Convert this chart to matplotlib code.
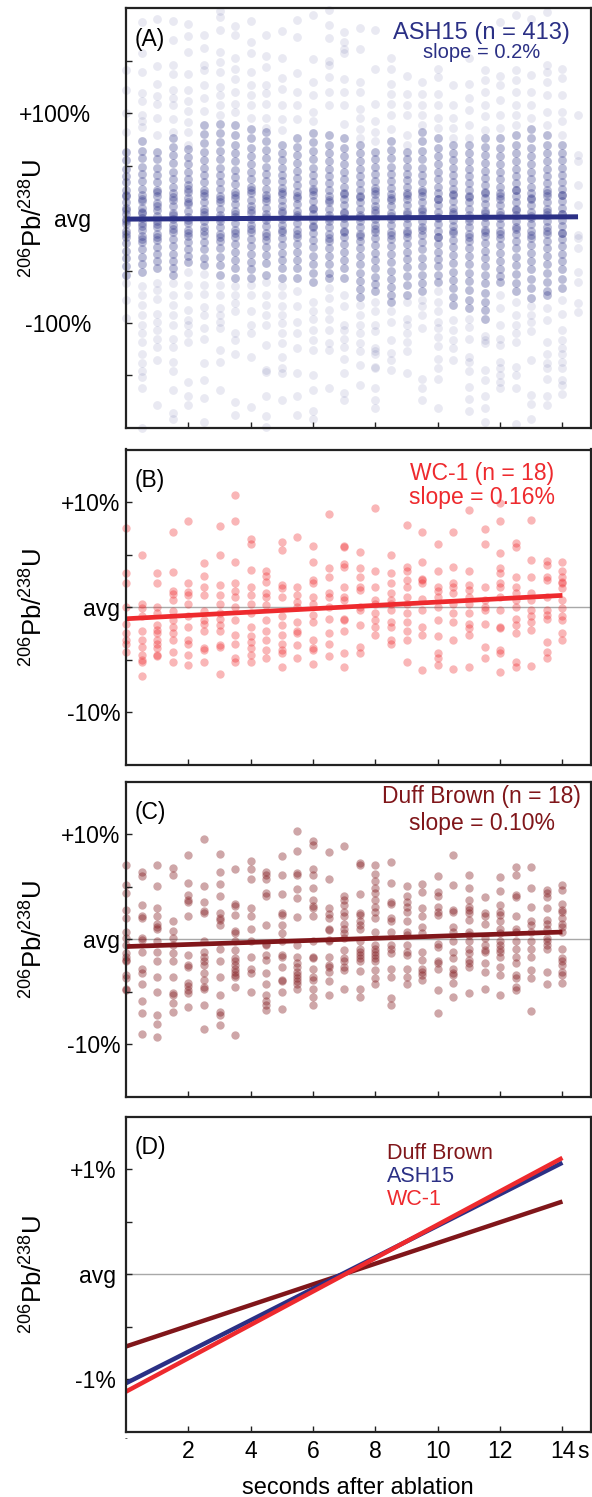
import matplotlib.pyplot as plt
import numpy as np

plt.rcParams['font.family'] = ['Liberation Sans', 'DejaVu Sans']
plt.rcParams['mathtext.fontset'] = 'custom'
plt.rcParams['mathtext.rm'] = 'Liberation Sans'
plt.rcParams['mathtext.it'] = 'Liberation Sans:italic'

# colours of the three reference materials
ASH = '#2b3085'
WC1 = '#ee2a2e'
DUFF = '#80161a'

# seconds after ablation for each measurement column
t_cols = [0, 0.5, 1, 1.5, 2, 2.5, 3, 3.5, 4, 4.5, 5, 5.5, 6, 6.5, 7,
          7.5, 8, 8.5, 9, 9.5, 10, 10.5, 11, 11.5, 12, 12.5, 13, 13.5, 14]
t_extra = 14.5  # last, sparse ASH15 column

# (A) ASH15, deviation from average in % -- dense band of each column
ash_dense = [
    [63, 55, 47, 40, 34, 27, 21, 15, 10, 4, -1, -6, -12, -18, -24, -31, -38, -46, -54, 22, 8, -3, -15],
    [73, 64, 57, 49, 42, 35, 28, 22, 16, 10, 5, 0, -5, -11, -17, -23, -30, -37, -44, -51, 18, 6, -8, -20],
    [63, 56, 48, 41, 34, 27, 21, 14, 8, 2, -3, -9, -15, -21, -28, -34, -41, -48, 25, 11, -6, -18],
    [76, 68, 60, 52, 44, 37, 30, 24, 17, 11, 5, -1, -7, -13, -20, -27, -34, -41, -48, -54, 20, 3, -10],
    [66, 58, 51, 44, 37, 31, 25, 19, 13, 7, 1, -5, -11, -17, -23, -30, -36, -42, 28, 15, -2, -14],
    [89, 80, 71, 63, 55, 48, 41, 34, 27, 21, 15, 9, 3, -3, -9, -16, -23, -30, -38, -45, 24, 6, -12],
    [90, 81, 72, 64, 56, 48, 41, 34, 28, 21, 15, 9, 3, -3, -9, -15, -22, -29, -37, -45, -54, 18, 0, -18],
    [89, 79, 70, 62, 54, 46, 39, 32, 25, 19, 13, 7, 1, -5, -11, -18, -25, -32, -40, -48, -57, 22, 4, -14],
    [85, 76, 67, 59, 51, 44, 37, 30, 24, 17, 11, 5, -1, -7, -13, -20, -27, -34, -42, -49, -57, 27, 8, -10],
    [82, 73, 65, 57, 49, 42, 35, 28, 22, 16, 10, 4, -2, -8, -14, -21, -28, -35, -43, -54, 19, 1, -17],
    [70, 62, 55, 48, 41, 35, 29, 23, 17, 11, 5, -1, -7, -13, -19, -26, -33, -40, -48, -57, 25, 7, -11],
    [76, 68, 60, 52, 45, 38, 31, 25, 19, 13, 7, 1, -5, -11, -18, -25, -32, -40, -48, -57, 21, 3, -15],
    [81, 72, 64, 56, 48, 41, 34, 28, 22, 16, 10, 4, -2, -8, -14, -21, -28, -36, -44, -52, -61, 26, 9, -9],
    [79, 70, 62, 54, 47, 40, 33, 27, 21, 15, 9, 3, -3, -9, -15, -22, -29, -36, -44, -52, -57, 17, 0, -19],
    [76, 67, 59, 51, 44, 37, 30, 24, 18, 12, 6, 0, -6, -12, -18, -25, -32, -40, -48, -57, 23, 5, -13],
    [70, 62, 54, 47, 40, 33, 27, 21, 15, 9, 3, -3, -9, -15, -22, -29, -36, -44, -52, -60, -68, -75, 20, 1, -17],
    [63, 56, 49, 42, 35, 29, 23, 17, 11, 5, -1, -7, -13, -19, -26, -33, -40, -48, -56, -63, -70, 26, 8, -10],
    [73, 65, 57, 49, 42, 35, 29, 23, 17, 11, 5, -1, -7, -13, -20, -27, -34, -42, -50, -58, -66, -73, -80, 19, 2, -16],
    [63, 56, 49, 42, 36, 30, 24, 18, 12, 6, 0, -6, -12, -18, -25, -32, -39, -47, -55, -64, -73, 22, 4, -14],
    [82, 73, 64, 56, 48, 41, 34, 27, 21, 15, 9, 3, -3, -9, -16, -23, -30, -38, -46, -54, -62, -70, 25, 7, -11],
    [76, 67, 59, 51, 44, 37, 30, 24, 18, 12, 6, 0, -6, -12, -18, -25, -32, -39, -46, -54, -61, 18, 1, -18],
    [70, 62, 55, 48, 41, 34, 28, 22, 16, 10, 4, -2, -8, -14, -21, -28, -35, -43, -51, -59, -67, -75, -83, 23, 6, -12],
    [70, 62, 54, 47, 40, 33, 27, 21, 15, 9, 3, -3, -9, -15, -22, -29, -36, -44, -52, -60, -69, -78, -86, 20, 0, -18],
    [76, 68, 60, 52, 45, 38, 31, 25, 19, 13, 7, 1, -5, -11, -17, -24, -31, -38, -46, -54, -62, -71, -80, -88, -96, 24, 5, -13],
    [76, 67, 59, 51, 44, 37, 30, 24, 18, 12, 6, 0, -6, -12, -19, -26, -33, -41, -49, -55, -61, 21, 3, -15],
    [79, 70, 62, 54, 47, 40, 33, 27, 21, 15, 9, 3, -3, -9, -15, -22, -29, -37, -45, -53, -62, -70, 27, 8, -10],
    [85, 76, 67, 59, 51, 44, 37, 30, 24, 18, 12, 6, 0, -6, -12, -19, -26, -33, -41, -49, -58, -67, -76, 19, 2, -16],
    [79, 70, 62, 54, 47, 40, 33, 27, 21, 15, 9, 3, -3, -9, -15, -22, -29, -36, -44, -52, -61, -70, -73, 24, 6, -12],
    [70, 62, 55, 48, 41, 34, 28, 22, 16, 10, 4, -2, -8, -14, -20, -27, -34, -41, -49, -58, -67, 22, 4, -14],
]

# (A) ASH15 -- scattered outliers of each column
ash_sparse = [
    [141, 122, 100, 82, -62, -78, -95],
    [187, 157, 139, 119, 111, 98, 92, 87, -65, -73, -83, -92, -102, -110, -118, -130, -138, -146, -151, -162, -200],
    [190, 145, 128, 116, 109, 95, 79, -62, -69, -77, -91, -99, -107, -115, -123, -135, -178],
    [188, 170, 146, 137, 122, 114, 108, 94, 82, -62, -73, -83, -92, -102, -115, -123, -137, -146, -164, -186, -191],
    [185, 173, 158, 137, 122, 111, 102, 91, 82, 70, -51, -64, -73, -88, -97, -102, -110, -118, -156, -170, -178],
    [174, 162, 146, 141, 127, 114, 102, -53, -64, -72, -85, -92, -105, -115, -138, -154, -171, -194],
    [197, 191, 179, 158, 149, 139, 125, 117, 108, 98, -64, -73, -86, -92, -99, -105, -126, -137, -164],
    [183, 174, 152, 142, 132, 120, 109, 101, -65, -73, -81, -89, -110, -116, -130, -175, -188],
    [188, 168, 157, 139, 127, 117, 108, 95, -64, -73, -89, -102, -110, -132, -180],
    [174, 154, 144, 127, 119, 109, 95, 86, -61, -73, -83, -92, -102, -121, -145, -147, -170, -189, -199],
    [178, 152, 133, 123, 108, 94, 84, -65, -73, -84, -92, -100, -110, -119, -132, -143, -148, -173],
    [189, 172, 138, 120, 108, 94, -70, -84, -99, -110, -124, -148, -170, -188],
    [193, 151, 130, 117, 101, 92, -80, -89, -96, -107, -116, -126, -150, -164, -184, -191],
    [198, 184, 171, 150, 146, 134, 120, 108, -67, -76, -88, -96, -107, -119, -126, -162],
    [177, 168, 161, 157, 132, 120, 108, 90, -73, -84, -102, -107, -115, -123, -134, -148, -167, -173],
    [181, 161, 130, 120, 104, 95, 85, 76, -83, -92, -102, -110, -119, -127, -140, -159],
    [179, 142, 109, 92, 82, 73, -80, -89, -102, -108, -124, -127, -130, -142, -143, -162, -173, -181],
    [152, 142, 128, 118, 109, 98, 85, -89, -99, -116, -129, -135, -145],
    [135, 118, 108, 98, 79, 70, -80, -96, -102, -110, -118, -127, -148],
    [130, 118, 108, 98, 89, -78, -84, -92, -105, -153, -162, -173],
    [142, 134, 118, 108, 95, 86, -70, -80, -89, -99, -105, -113, -122, -134, -143, -153, -181],
    [127, 108, 95, 86, 76, -97, -107, -116, -124, -135],
    [152, 128, 114, 103, 89, 76, -96, -104, -115, -132, -137, -146, -161, -172, -184],
    [141, 131, 120, 108, 97, 84, -112, -116, -119, -145, -154, -170, -181, -194],
    [187, 135, 127, 112, 98, 86, -73, -86, -102, -115, -121, -137, -143, -150, -156, -162],
    [193, 141, 131, 120, 108, 98, 89, -80, -92, -102, -110, -118, -142, -150, -162, -196],
    [190, 136, 120, 108, 95, -84, -92, -99, -108, -135, -169, -177, -191],
    [196, 146, 139, 130, 117, 101, 89, -86, -97, -118, -130, -138, -143, -153, -170, -178],
    [142, 133, 117, 101, 92, 79, -78, -91, -107, -116, -124, -130, -137, -143, -154, -159, -168],
]
ash_extra = [98, 60, 54, 31, 12, -16, -19, -29, -51, -61, -81, -90]

# (B) WC-1, deviation from average in %
wc1_pts = [
    [7.5, 3.2, 2.3, 0, -1.6, -2.5, -3.1, -3.5, -4.3],
    [5.0, 0.3, -0.1, -0.9, -2.3, -3.1, -3.8, -4.6, -5.0, -5.2, -6.6],
    [3.2, 2.3, 0, -0.6, -1.7, -2.2, -2.5, -3.1, -3.5, -3.9, -4.6, -4.7],
    [7.1, 3.3, 1.5, 1.2, 0.7, -0.4, -1.2, -1.9, -2.5, -3.1, -4.3, -5.2],
    [8.2, 2.3, 1.4, 1.1, 0.3, -0.9, -1.9, -3.1, -3.5, -4.6, -5.5],
    [4.2, 3.0, 1.9, 1.1, -0.4, -1.2, -1.6, -2.3, -3.9, -4.1, -5.2],
    [7.7, 5.0, 2.1, 1.1, 0.3, -0.6, -1.1, -1.7, -2.3, -3.6, -3.8, -6.4],
    [10.7, 8.2, 4.3, 2.3, 1.5, 1.0, 0, -1.2, -2.7, -3.5, -4.9, -5.2],
    [6.5, 6.0, 3.5, 1.9, 1.1, 0.3, -0.6, -1.9, -2.8, -3.3, -3.9, -4.6, -5.2],
    [3.4, 3.0, 2.4, 1.3, 1.0, 0.2, -1.2, -2.3, -3.1, -4.1, -4.9],
    [6.2, 5.4, 2.1, 1.8, 1.0, -0.9, -1.7, -2.7, -3.5, -4.1, -4.4, -5.7],
    [6.7, 1.9, 1.1, 0.5, 0, -1.4, -2.3, -2.5, -3.6, -4.9],
    [5.8, 4.3, 2.6, 2.3, 1.0, 0.3, -0.8, -1.4, -3.1, -3.9, -4.1, -5.4],
    [8.9, 3.7, 2.9, 1.3, 1.0, 0, -1.1, -2.5, -3.5, -4.7],
    [5.8, 5.7, 4.1, 3.8, 1.9, 1.0, 0.7, -1.1, -1.2, -2.3, -4.4, -5.7],
    [5.2, 3.7, 2.9, 1.9, 1.6, 0, -0.3, -1.7, -3.8, -4.4],
    [9.4, 3.4, 1.9, 0.7, 0.3, -0.6, -1.2, -1.9, -2.7],
    [5.0, 3.2, 2.3, 1.3, 0.7, 0.3, -0.3, -1.4, -1.9, -3.1, -3.5],
    [7.8, 3.8, 3.4, 2.6, 1.9, 1.0, 0.3, -0.6, -1.4, -2.3, -3.1, -5.2],
    [7.1, 4.3, 2.7, 2.6, 2.3, 0.8, -0.3, -1.9, -2.7, -6.0],
    [6.0, 3.4, 1.9, 1.5, 1.0, 0, -1.2, -2.8, -4.4, -4.9, -5.5],
    [7.1, 3.8, 2.3, 1.9, 1.3, 0.3, -0.6, -1.4, -3.1, -5.9],
    [9.2, 3.4, 2.1, 1.6, 1.0, 0.3, -0.6, -1.6, -2.0, -2.7, -5.7],
    [7.4, 6.0, 1.9, 0.7, 0, -0.3, -1.6, -3.8, -4.9],
    [9.9, 8.2, 5.1, 3.7, 3.2, 2.3, 1.9, 1.0, -0.3, -1.9, -2.0, -4.1, -4.4, -6.2],
    [6.1, 5.7, 2.9, 1.9, 1.3, 0.7, 0, -1.1, -1.7, -2.5, -5.2, -5.7],
    [8.3, 4.5, 2.9, 1.3, 0.7, -0.3, -0.9, -1.4, -2.2, -5.6],
    [4.4, 4.0, 2.9, 2.6, 1.0, -0.3, -0.8, -1.1, -3.3, -4.3, -4.9],
    [4.3, 3.4, 2.9, 2.4, 2.3, 1.8, 0.7, -0.1, -0.9, -1.2, -2.5, -3.1],
]

# (C) Duff Brown, deviation from average in %
duff_pts = [
    [7.1, 5.2, 4.4, 2.8, 2.0, 0.7, 0.1, -0.5, -1.3, -1.7, -2.0, -2.1, -3.4, -3.7, -4.7, -4.8],
    [6.4, 6.0, 3.3, 2.2, 2.0, 0.1, -0.1, -1.2, -2.8, -3.2, -4.3, -5.9, -7.0, -9.0],
    [7.1, 5.1, 3.0, 2.2, 1.5, 1.2, 1.0, -0.2, -1.2, -2.1, -3.6, -5.0, -7.2, -8.1, -9.3],
    [6.8, 6.1, 1.7, 0.8, 0.1, -0.5, -1.3, -2.1, -3.6, -5.1, -5.3, -6.1, -6.9],
    [8.0, 5.4, 4.2, 3.7, 3.6, 2.2, -1.5, -2.4, -2.6, -4.2, -4.4, -4.8, -5.1, -6.4],
    [9.6, 5.1, 3.6, 2.7, 2.5, -0.2, -1.2, -1.7, -2.1, -2.4, -3.2, -3.9, -4.5, -4.7, -6.3, -8.5],
    [8.1, 6.4, 5.3, 4.1, 2.5, 2.0, 1.8, 1.4, -0.9, -2.1, -3.6, -5.3, -6.9, -7.2, -8.2],
    [6.7, 3.4, 3.2, 2.3, 0.8, 0.6, -0.2, -1.0, -1.8, -2.1, -2.4, -2.8, -3.1, -3.4, -3.6, -4.5, -9.1],
    [7.5, 6.7, 5.7, 3.0, 2.2, 1.0, -0.2, -1.7, -2.8, -3.2, -5.0],
    [6.4, 6.1, 5.7, 4.4, 4.1, 1.4, -0.4, -0.5, -1.5, -2.0, -3.2, -4.3, -5.3, -5.9, -6.3, -6.7],
    [7.9, 6.1, 4.3, 2.5, 2.3, 1.4, 0.6, -0.2, -1.5, -1.7, -2.6, -3.9, -4.0, -5.0, -6.6],
    [10.3, 8.4, 6.3, 6.1, 4.8, 3.9, 2.1, -0.5, -1.7, -2.3, -2.6, -3.1, -3.4, -3.7, -4.0, -4.3, -4.7],
    [9.4, 9.0, 6.7, 6.1, 4.9, 3.7, 3.2, 3.0, 2.2, -0.2, -1.7, -1.8, -2.8, -3.6, -3.9, -4.7, -5.5, -6.3],
    [8.3, 5.7, 3.0, 2.4, 2.0, 1.0, 0.9, -0.1, -0.2, -1.7, -2.4, -2.6, -3.1, -4.0, -5.3],
    [8.9, 4.1, 3.7, 3.3, 2.6, 2.2, 1.5, 1.0, 0.6, 0.1, -1.0, -1.8, -2.1, -2.6, -2.9, -4.7],
    [7.3, 7.1, 4.3, 2.5, 2.3, 1.7, 1.4, 1.0, -0.2, -0.9, -1.2, -1.5, -1.8, -2.1, -3.0, -4.7, -5.5],
    [7.1, 6.2, 5.6, 4.9, 4.4, 3.7, 3.1, 2.6, 2.0, 0.7, -0.5, -0.9, -1.2, -1.5, -1.8, -2.1, -2.9, -3.7, -4.3],
    [7.4, 5.4, 3.6, 3.4, 2.0, 1.7, 0.7, -0.5, -0.9, -1.3, -2.8, -3.6, -5.6, -6.3],
    [5.1, 4.1, 3.6, 3.1, 2.6, 1.7, 0.7, 0.4, -0.5, -1.2, -1.5, -2.8, -3.6, -4.3],
    [5.3, 4.5, 3.0, 2.2, 1.2, 0.6, -1.2, -2.0, -2.8, -3.1, -3.4, -3.9],
    [6.0, 4.5, 4.1, 3.1, 2.6, 2.3, -0.4, -0.7, -2.1, -2.3, -2.8, -4.8, -7.0],
    [8.0, 5.2, 2.8, 2.6, 1.2, 0.7, -0.2, -1.2, -1.8, -2.8, -3.2, -3.4, -4.2, -5.5],
    [6.1, 4.9, 3.7, 3.1, 2.8, 2.5, 1.8, 0.7, 0.4, -0.2, -0.9, -1.3, -2.0, -2.3, -2.6, -5.1],
    [4.0, 2.5, 2.2, 1.5, 0.1, -0.5, -1.0, -1.2, -2.3, -3.1, -4.7],
    [5.9, 4.6, 3.3, 2.6, 2.3, 1.7, 1.0, 0.6, -0.2, -0.5, -0.9, -1.2, -1.7, -2.6, -3.4, -5.3],
    [6.9, 6.1, 4.2, 4.0, 2.2, 1.0, 0.7, -0.2, -0.9, -1.7, -2.3, -3.4, -3.7, -4.5, -4.8],
    [6.9, 4.9, 3.1, 1.7, 1.4, 0.7, -0.2, -0.9, -1.7, -2.9, -3.7, -6.8],
    [4.7, 4.4, 4.0, 3.0, 1.8, 1.5, 1.0, 0.1, -0.2, -0.5, -0.9, -3.1, -4.3],
    [5.2, 4.7, 3.4, 2.8, 2.6, 2.0, 1.5, 1.2, 0.7, -0.9, -1.8, -2.1, -2.4, -3.1, -3.4, -4.2],
]

# linear drift fits (% per second, % at t = 0)
samples = ['Duff Brown', 'ASH15', 'WC-1']
slopes = [0.0986, 0.150, 0.159]
intercepts = [-0.69, -1.04, -1.12]
colors = [DUFF, ASH, WC1]


def flatten(ts, cols):
    xs, ys = [], []
    for t, vals in zip(ts, cols):
        xs += [t] * len(vals)
        ys += list(vals)
    return np.array(xs), np.array(ys)


fig = plt.figure(figsize=(5.92, 14.97), dpi=100)
H = 1497.0
left, width = 126 / 592, 464.5 / 592


def add_panel(top, bottom):
    return fig.add_axes([left, 1 - bottom / H, width, (bottom - top) / H])


axA = add_panel(8, 428)
axB = add_panel(449.5, 764.5)
axC = add_panel(781.8, 1096.8)
axD = add_panel(1116.5, 1431.5)
axes = [axA, axB, axC, axD]

ylab = r'$^{206}$Pb/$^{238}$U'
for ax in axes:
    ax.set_xlim(0, 14.9)
    ax.set_xticks([2, 4, 6, 8, 10, 12, 14])
    ax.tick_params(which='both', direction='in', length=4, width=1, labelsize=16.5,
                   color='#222222')
    ax.tick_params(axis='x', labelbottom=False)
    for sp in ax.spines.values():
        sp.set_linewidth(1.6)
        sp.set_color('#222222')
    ax.set_ylabel(ylab, fontsize=18.5)
    ax.yaxis.set_label_coords(-0.168, 0.5)

# (A)
axA.set_ylim(-200, 200)
axA.set_yticks([-100, 0, 100])
axA.set_yticklabels(['-100%', 'avg', '+100%'])
axA.set_yticks([-150, -50, 50, 150], minor=True)
axA.tick_params(axis='y', pad=25)
x, y = flatten(t_cols, ash_sparse)
axA.scatter(x, y, s=40, color=ASH, alpha=0.1, lw=0, clip_on=False)
axA.scatter([t_extra] * len(ash_extra), ash_extra, s=40, color=ASH, alpha=0.1, lw=0)
x, y = flatten(t_cols, ash_dense)
axA.scatter(x, y, s=40, color=ASH, alpha=0.32, lw=0, clip_on=False)
tl = np.array([0, 14.5])
axA.plot(tl, slopes[1] * tl + intercepts[1], color=ASH, lw=3.6, solid_capstyle='butt')
axA.text(0.018, 0.924, '(A)', transform=axA.transAxes, fontsize=16.5, va='center')
axA.text(0.766, 0.940, 'ASH15 (n = 413)', transform=axA.transAxes, fontsize=17,
         color=ASH, ha='center', va='center')
axA.text(0.766, 0.895, 'slope = 0.2%', transform=axA.transAxes, fontsize=14.5,
         color=ASH, ha='center', va='center')

# (B) and (C)
tl = np.array([0, 14])
panels = [(axB, wc1_pts, WC1, 0.34, 2, '(B)', 'WC-1 (n = 18)', 'slope = 0.16%', 0.925, 0.849),
          (axC, duff_pts, DUFF, 0.38, 0, '(C)', 'Duff Brown (n = 18)', 'slope = 0.10%', 0.952, 0.869)]
for ax, pts, col, alpha, k, tag, name, slope_txt, y1, y2 in panels:
    ax.set_ylim(-15, 15)
    ax.set_yticks([-10, 0, 10])
    ax.set_yticklabels(['-10%', 'avg', '+10%'])
    ax.set_yticks([-5, 5], minor=True)
    ax.tick_params(axis='y', pad=4)
    ax.axhline(0, color='#a8a8a8', lw=1, zorder=0)
    x, y = flatten(t_cols, pts)
    ax.scatter(x, y, s=36, color=col, alpha=alpha, lw=0, clip_on=False)
    ax.plot(tl, slopes[k] * tl + intercepts[k], color=col, lw=3.4, solid_capstyle='butt')
    ax.text(0.018, 0.902, tag, transform=ax.transAxes, fontsize=16.5, va='center')
    ax.text(0.766, y1, name, transform=ax.transAxes, fontsize=16.5, color=col,
            ha='center', va='center')
    ax.text(0.766, y2, slope_txt, transform=ax.transAxes, fontsize=16.5, color=col,
            ha='center', va='center')

# (D) the three fitted drifts together
axD.set_ylim(-1.5, 1.5)
axD.set_yticks([-1, 0, 1])
axD.set_yticklabels(['-1%', 'avg', '+1%'])
axD.set_yticks([-0.5, 0.5], minor=True)
axD.tick_params(axis='y', pad=7)
axD.axhline(0, color='#a8a8a8', lw=1, zorder=0)
for name, m, b, col in zip(samples, slopes, intercepts, colors):
    axD.plot(tl, m * tl + b, color=col, lw=3.2, solid_capstyle='butt')
for i, (name, col) in enumerate(zip(samples, colors)):
    axD.text(0.562, 0.884 - 0.074 * i, name, transform=axD.transAxes, fontsize=15.5,
             color=col, va='center')
axD.text(0.018, 0.903, '(D)', transform=axD.transAxes, fontsize=16.5, va='center')
axD.tick_params(axis='x', labelbottom=True, pad=6)
axD.set_xticklabels(['2', '4', '6', '8', '10', '12', '14'])
axD.text(14.655, -0.0265, 's', transform=axD.get_xaxis_transform(), fontsize=16.5,
         ha='center', va='top')
axD.text(0, -0.012, '-', transform=axD.get_xaxis_transform(), fontsize=6,
         ha='center', va='top')
axD.set_xlabel('seconds after ablation', fontsize=17)
axD.xaxis.set_label_coords(0.5, -0.144)

fig.savefig('out.png', dpi=100, facecolor='white')
